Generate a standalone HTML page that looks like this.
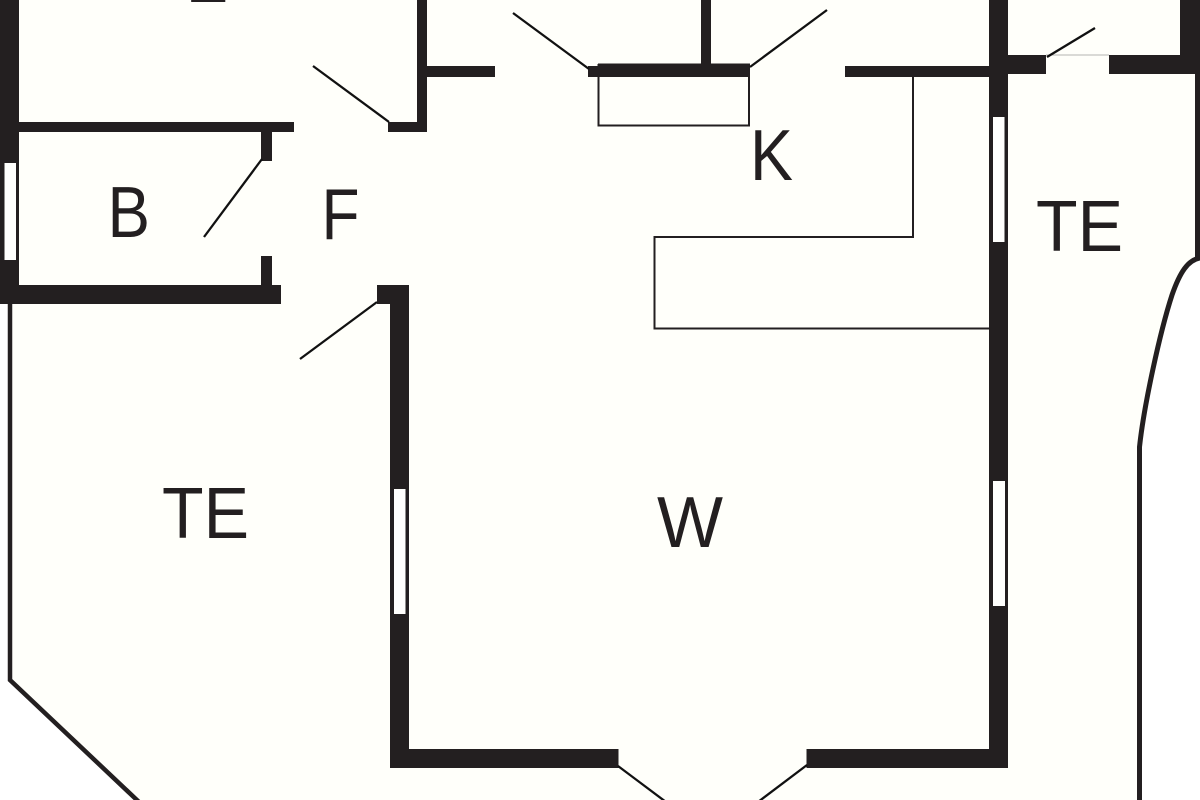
<!DOCTYPE html>
<html><head><meta charset="utf-8"><style>
html,body{margin:0;padding:0;background:#fff;width:1200px;height:800px;overflow:hidden}
svg{display:block}
text{font-family:"Liberation Sans",sans-serif;font-size:72px;fill:#231f20}
</style></head><body>
<svg width="1200" height="800" viewBox="0 0 1200 800" xmlns="http://www.w3.org/2000/svg">
<rect width="1200" height="800" fill="#fff"/>
<path d="M0,0 H1200 V258 C1188,260 1180,272 1172,295 C1160,332 1144,405 1139.500,447 L1139.500,800 H137 L10,680 V304 H0 Z" fill="#fffffa"/>
<g fill="#231f20">
<rect x="0" y="0" width="19" height="304"/>
<rect x="19" y="122" width="275" height="10"/>
<rect x="261" y="132" width="11" height="29"/>
<rect x="261" y="256" width="11" height="30"/>
<rect x="0" y="285" width="281" height="19"/>
<rect x="417" y="0" width="10" height="132"/>
<rect x="388" y="122" width="39" height="10"/>
<rect x="427" y="66" width="68" height="11"/>
<rect x="377" y="285" width="32" height="19"/>
<rect x="390" y="285" width="19" height="483"/>
<rect x="390" y="749" width="228.500" height="19"/>
<rect x="806.500" y="749" width="201.500" height="19"/>
<rect x="989" y="0" width="19" height="768"/>
<rect x="845" y="66" width="144" height="11"/>
<rect x="588" y="66" width="162" height="11"/>
<rect x="598" y="63.500" width="152" height="3.500"/>
<rect x="701" y="0" width="10" height="66"/>
<rect x="1008" y="55" width="38" height="19"/>
<rect x="1109" y="55" width="91" height="19"/>
<rect x="1180" y="0" width="20" height="55"/>
</g>
<g fill="#fffffd">
<rect x="4.500" y="163" width="11.500" height="97"/>
<rect x="394" y="489" width="11.500" height="125"/>
<rect x="993" y="117" width="11.500" height="125"/>
<rect x="993" y="481" width="12" height="125"/>
</g>
<g fill="none" stroke="#231f20" stroke-width="2">
<polyline points="598.500,64 598.500,125.500 749,125.500 749,64"/>
<polyline points="913,77 913,237 654.500,237 654.500,328.500 989,328.500"/>
</g>
<line x1="1046" y1="55" x2="1109" y2="55" stroke="#b5b5b2" stroke-width="1"/>
<g fill="none" stroke="#111" stroke-width="2.300">
<line x1="313" y1="66" x2="389" y2="122"/>
<line x1="262" y1="159" x2="204" y2="237"/>
<line x1="377" y1="302" x2="300" y2="359"/>
<line x1="513" y1="13" x2="589" y2="69"/>
<line x1="750" y1="67" x2="827" y2="10"/>
<line x1="1047" y1="57" x2="1095" y2="28"/>
<line x1="618" y1="766" x2="666" y2="802"/>
<line x1="807" y1="765" x2="758" y2="802"/>
</g>
<g fill="none" stroke="#231f20">
<polyline stroke-width="4.500" points="10,304 10,680 139,802"/>
<rect x="1195" y="74" width="5" height="184" fill="#231f20" stroke="none"/>
<path stroke-width="5" d="M1200,258 C1188,260 1180,272 1172,295 C1160,332 1144,405 1139.500,447 L1139.500,800"/>
</g>
<text x="186" y="2" textLength="42" lengthAdjust="spacingAndGlyphs">E</text>
<text x="107.500" y="237" textLength="42.500" lengthAdjust="spacingAndGlyphs">B</text>
<text x="321.500" y="239" textLength="38" lengthAdjust="spacingAndGlyphs">F</text>
<text x="750" y="180" textLength="43" lengthAdjust="spacingAndGlyphs">K</text>
<text x="1036" y="251" textLength="87" lengthAdjust="spacingAndGlyphs">TE</text>
<text x="162" y="538" textLength="87" lengthAdjust="spacingAndGlyphs">TE</text>
<text x="657" y="547" textLength="66" lengthAdjust="spacingAndGlyphs">W</text>
</svg>
</body></html>
